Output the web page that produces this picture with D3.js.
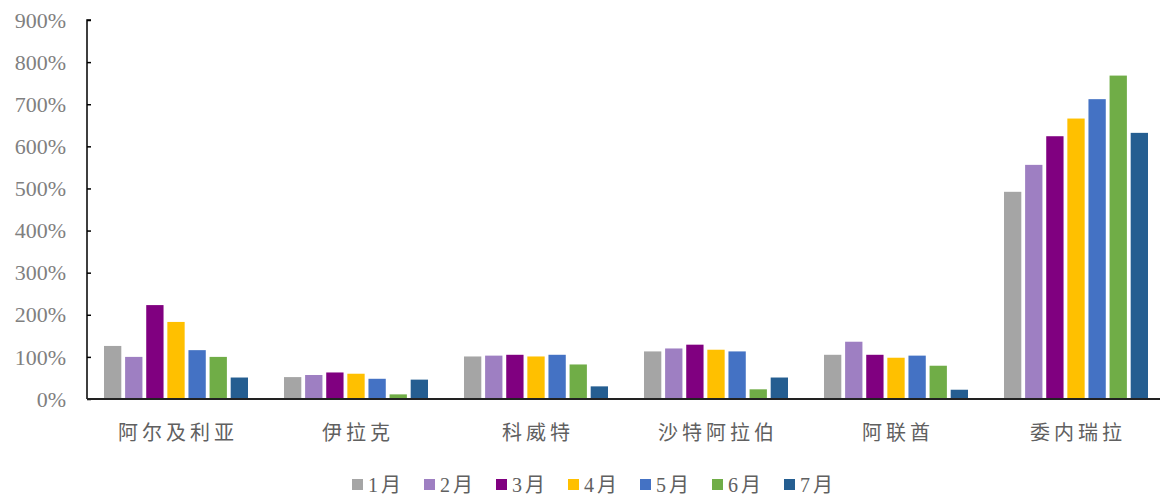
<!DOCTYPE html>
<html>
<head>
<meta charset="utf-8">
<script src="https://cdn.jsdelivr.net/npm/d3@7"></script>
<style>
  html, body { margin: 0; padding: 0; background: #fff; }
  svg { display: block; }
</style>
</head>
<body>
<svg id="chart" width="1162" height="496"></svg>
<script>
// Countries along the x axis
const categories = ["阿尔及利亚", "伊拉克", "科威特", "沙特阿拉伯", "阿联酋", "委内瑞拉"];
// Month series (legend order)
const months = ["1月", "2月", "3月", "4月", "5月", "6月", "7月"];
const monthColors = ["#A5A5A5", "#9E7FC2", "#800080", "#FFC000", "#4472C4", "#70AD47", "#255E91"];
// Values (%) per month, one entry per country
const m1 = [126, 52, 101, 113, 105, 492];
const m2 = [100, 57, 103, 120, 136, 556];
const m3 = [223, 63, 105, 129, 105, 624];
const m4 = [183, 60, 101, 117, 98, 666];
const m5 = [116, 48, 105, 113, 103, 712];
const m6 = [100, 11, 82, 23, 79, 768];
const m7 = [51, 46, 30, 51, 22, 632];
const seriesValues = [m1, m2, m3, m4, m5, m6, m7];
// Y axis ticks (%)
const yTicks = [0, 100, 200, 300, 400, 500, 600, 700, 800, 900];

const svg = d3.select("#chart");
const axisX = 87, baseY = 399, topY = 20, rightEnd = 1160;

const x0 = d3.scaleBand().domain(categories).range([86, 1166]).padding(0);
const x1 = d3.scaleBand().domain(months).range([18, 162]).paddingInner(0.18).paddingOuter(0);
const y = d3.scaleLinear().domain([0, 900]).range([baseY, topY]);

// Bars
const groups = svg.append("g").selectAll("g")
  .data(categories)
  .join("g")
  .attr("transform", d => `translate(${x0(d)},0)`);

groups.selectAll("rect")
  .data((c, ci) => months.map((m, mi) => ({ m, mi, v: seriesValues[mi][ci] })))
  .join("rect")
  .attr("x", d => x1(d.m))
  .attr("width", x1.bandwidth())
  .attr("y", d => y(d.v))
  .attr("height", d => baseY - y(d.v))
  .attr("fill", d => monthColors[d.mi]);

// Y axis (ticks point inward)
const yAxis = svg.append("g")
  .attr("transform", `translate(${axisX},0)`)
  .call(d3.axisRight(y).tickValues(yTicks).tickSize(4).tickFormat(""));
yAxis.select(".domain").attr("stroke", "#000").attr("stroke-width", 1.5).attr("d", `M4,${topY}H0V${baseY}`);
yAxis.selectAll(".tick line").attr("stroke", "#000").attr("stroke-width", 1.5);

// Y tick labels
svg.append("g").selectAll("text")
  .data(yTicks)
  .join("text")
  .attr("x", 66)
  .attr("y", d => y(d))
  .attr("dy", "0.35em")
  .attr("text-anchor", "end")
  .attr("font-family", "'Liberation Serif', 'Times New Roman', serif")
  .attr("font-size", 22)
  .attr("fill", "#808080")
  .text(d => d + "%");

// X axis baseline
const xAxis = svg.append("g")
  .attr("transform", `translate(0,${baseY})`)
  .call(d3.axisBottom(x0).tickSize(0).tickFormat(""));
xAxis.select(".domain").attr("stroke", "#222").attr("stroke-width", 2).attr("d", `M${axisX},0H${rightEnd}`);

// Category labels
svg.append("g").selectAll("text")
  .data(categories)
  .join("text")
  .attr("x", d => x0(d) + x0.bandwidth() / 2 + 2)
  .attr("y", 440)
  .attr("text-anchor", "middle")
  .attr("font-family", "'Noto Sans CJK SC', sans-serif")
  .attr("font-size", 20)
  .attr("letter-spacing", "4px")
  .attr("fill", "#606060")
  .text(d => d);

// Legend
const legend = svg.append("g").selectAll("g")
  .data(months)
  .join("g")
  .attr("transform", (d, i) => `translate(${352 + i * 72},0)`);
legend.append("rect")
  .attr("x", 0).attr("y", 479).attr("width", 11).attr("height", 11)
  .attr("fill", (d, i) => monthColors[i]);
legend.append("text")
  .attr("x", 16).attr("y", 492)
  .attr("font-family", "'Liberation Serif', 'Noto Sans CJK SC', serif")
  .attr("font-size", 20)
  .attr("letter-spacing", "3px")
  .attr("fill", "#606060")
  .text(d => d);
</script>
</body>
</html>
